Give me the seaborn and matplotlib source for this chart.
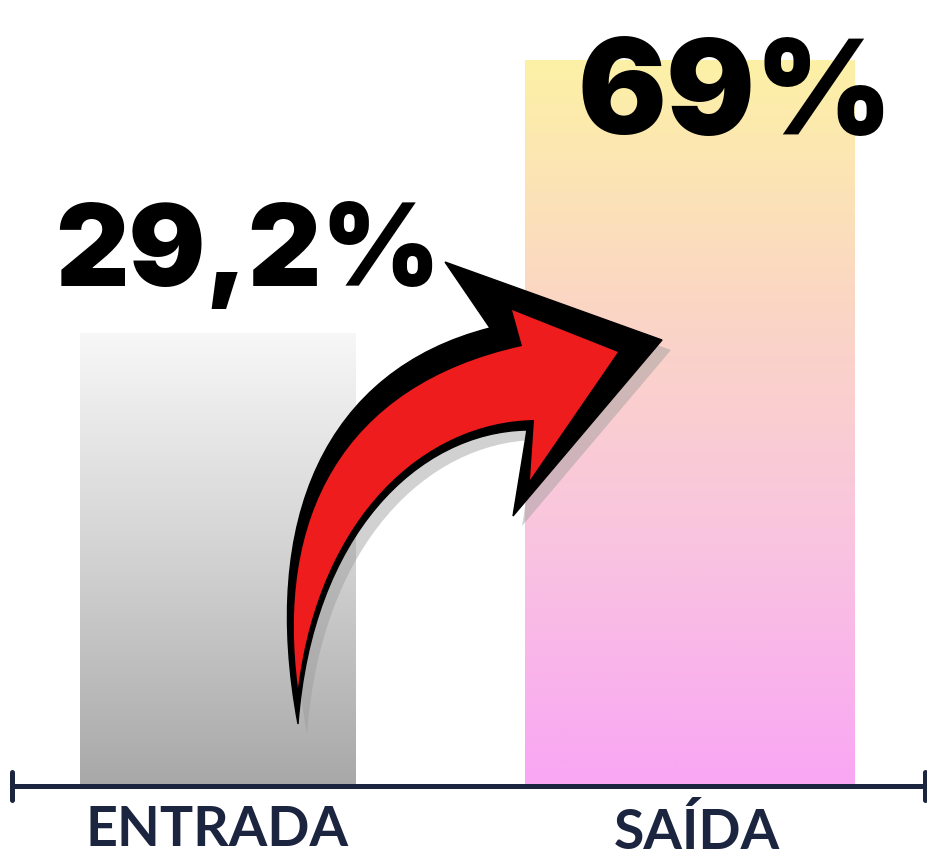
import matplotlib.pyplot as plt
import numpy as np
import pandas as pd
import seaborn as sns
from matplotlib.path import Path
from matplotlib.patches import PathPatch
from matplotlib.colors import LinearSegmentedColormap

# data
categorias = ["ENTRADA", "SAÍDA"]
valores = [29.2, 69.0]
rotulos = ["29,2%", "69%"]

df = pd.DataFrame({"cat": categorias, "val": valores})

sns.set_theme(style="white")
plt.rcParams["font.family"] = ["Lato", "DejaVu Sans"]

W, H = 928, 858
fig = plt.figure(figsize=(W / 100, H / 100), dpi=100)
fig.patch.set_facecolor("white")

# main axes: bottom spine is the baseline line
ax = fig.add_axes([12 / W, (H - 786) / H, (925 - 12) / W, 786 / H])
base = -36.8
sns.barplot(data=df, x="cat", y="val", ax=ax, color="white", width=0.6)

larguras = [0.582, 0.698]
grads = [
    LinearSegmentedColormap.from_list("g1", ["#a8a8a8", "#d2d2d2", "#f7f7f7"]),
    LinearSegmentedColormap.from_list("g2", ["#f9a6f4", "#f9c4e0", "#fbd6c4", "#fdf1a6"]),
]
for i, p in enumerate(ax.patches):
    cx = p.get_x() + p.get_width() / 2
    p.set_x(cx - larguras[i] / 2)
    p.set_width(larguras[i])
    p.set_y(base)
    p.set_height(valores[i] - base)
    p.set_edgecolor("none")
    g = np.linspace(0, 1, 256).reshape(-1, 1)
    im = ax.imshow(g, cmap=grads[i], origin="lower", aspect="auto",
                   extent=[cx - larguras[i] / 2, cx + larguras[i] / 2, base, valores[i]],
                   zorder=2)
    im.set_clip_path(p)
ax.set_xlim(-0.435, 1.497)
ax.set_ylim(base, 77.8)

for s in ["top", "right", "left"]:
    ax.spines[s].set_visible(False)
ax.spines["bottom"].set_color("#1b2540")
ax.spines["bottom"].set_linewidth(3.6)
ax.spines["bottom"].set_zorder(5)
ax.set_xticks([])
ax.set_yticks([])
ax.set_xlabel("")
ax.set_ylabel("")
for xe in ax.get_xlim():
    ax.axvline(xe, ymin=-14 / 786, ymax=14 / 786, color="#1b2540", lw=3.6,
               clip_on=False, solid_capstyle="round", zorder=5)

# overlay in pixel coordinates for decoration and labels
ov = fig.add_axes([0, 0, 1, 1], zorder=10)
ov.set_xlim(0, W)
ov.set_ylim(H, 0)
ov.axis("off")
ov.patch.set_alpha(0)


def seta(pts):
    (t, o1, o2, nt, bt, tip, bb, nb, i1, i2) = pts
    verts = [t, o1, o2, nt, bt, tip, bb, nb, i1, i2, t, t]
    codes = [Path.MOVETO, Path.CURVE4, Path.CURVE4, Path.CURVE4,
             Path.LINETO, Path.LINETO, Path.LINETO, Path.LINETO,
             Path.CURVE4, Path.CURVE4, Path.CURVE4, Path.CLOSEPOLY]
    return Path(verts, codes)


preto = [(298, 724), (260, 520), (325, 370), (490, 328), (445, 262), (662, 340),
         (513, 516), (527, 430), (418, 432), (312, 535)]
vermelho = [(298, 688), (276, 520), (340, 386), (522, 346), (512, 310), (618, 352),
            (530, 480), (534, 420), (425, 422), (320, 515)]
sombra = [(x + 9, y + 10) for x, y in preto]

ov.add_patch(PathPatch(seta(sombra), facecolor="#9a9a9a", edgecolor="none", alpha=0.45))
ov.add_patch(PathPatch(seta(preto), facecolor="black", edgecolor="black", lw=1))
ov.add_patch(PathPatch(seta(vermelho), facecolor="#ee1c1c", edgecolor="none"))

# value labels
fam_num = ["Inter", "Lato", "DejaVu Sans"]
ov.text(248, 286, rotulos[0], fontsize=82, fontweight="black", color="black",
        ha="center", va="baseline", family=fam_num)
ov.text(735, 134, rotulos[1], fontsize=95, fontweight="black", color="black",
        ha="center", va="baseline", family=fam_num)

# category labels
ov.text(217, 846, categorias[0], fontsize=40, fontweight="bold", color="#1b2540",
        ha="center", va="baseline")
ov.text(697, 849, categorias[1], fontsize=40, fontweight="bold", color="#1b2540",
        ha="center", va="baseline")

fig.savefig("out.png", dpi=100)
